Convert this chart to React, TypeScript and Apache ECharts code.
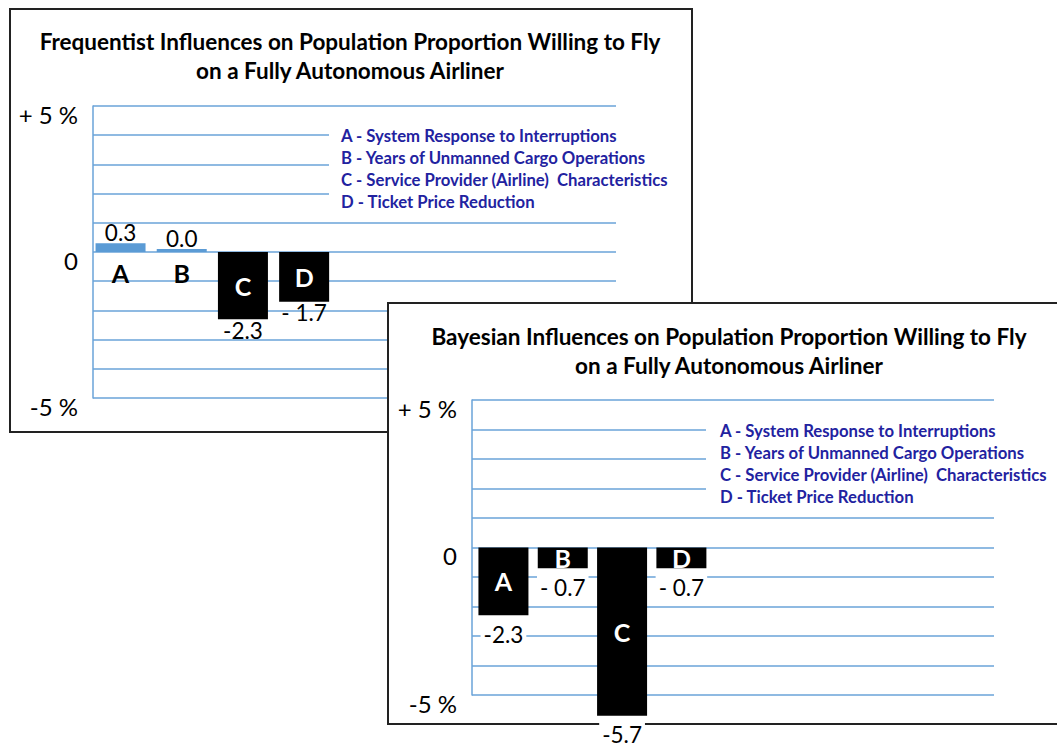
import React, { useEffect, useRef } from 'react';
import * as echarts from 'echarts';

// ---- data ----
const categories = ['A', 'B', 'C', 'D'];
const legendItems = [
  'A - System Response to Interruptions',
  'B - Years of Unmanned Cargo Operations',
  'C - Service Provider (Airline)  Characteristics',
  'D - Ticket Price Reduction',
];
const freqValues = [0.3, 0.0, -2.3, -1.7];
const freqLabels = ['0.3', '0.0', '-2.3', '- 1.7'];
const bayesValues = [-2.3, -0.7, -5.7, -0.7];
const bayesLabels = ['-2.3', '- 0.7', '-5.7', '- 0.7'];
const yTickLabels: Record<string, string> = { '5': '+ 5 %', '0': '0', '-5': '-5 %' };
const freqTitle = 'Frequentist Influences on Population Proportion Willing to Fly\non a Fully Autonomous Airliner';
const bayesTitle = 'Bayesian Influences on Population Proportion Willing to Fly\non a Fully Autonomous Airliner';

const GRID_COLOR = '#6AA3D9';
const BLUE = '#5B9BD5';
const NAVY = '#2222A0';
const BORDER = 2;

type Cfg = {
  title: string;
  values: number[];
  labels: string[];
  box: { left: number; top: number; width: number; height: number; rightBorder: boolean };
  grid: { left: number; top: number; width: number; height: number };
  axisMax: number;
  offset: number;
  titleX: number;
  titleTop: number;
  legend: { x: number; y: number };
  cover: { x: number; y: number; w: number; h: number };
  valueDist: number;
  labelBg: boolean;
};

const freqCfg: Cfg = {
  title: freqTitle,
  values: freqValues,
  labels: freqLabels,
  box: { left: 9, top: 8, width: 684, height: 425, rightBorder: true },
  grid: { left: 93, top: 106, width: 523, height: 292 },
  axisMax: 8.546,
  offset: 0.45,
  titleX: 350,
  titleTop: 27,
  legend: { x: 341, y: 125 },
  cover: { x: 329, y: 120, w: 290, h: 90 },
  valueDist: 1,
  labelBg: false,
};

const bayesCfg: Cfg = {
  title: bayesTitle,
  values: bayesValues,
  labels: bayesLabels,
  box: { left: 387, top: 302, width: 670, height: 423, rightBorder: false },
  grid: { left: 472, top: 400, width: 522, height: 295 },
  axisMax: 8.8,
  offset: 0.53,
  titleX: 729,
  titleTop: 322,
  legend: { x: 720, y: 420 },
  cover: { x: 706, y: 416, w: 292, h: 86 },
  valueDist: 2,
  labelBg: true,
};

function buildOption(cfg: Cfg) {
  const { values, labels } = cfg;
  return {
    animation: false,
    title: {
      text: cfg.title,
      left: cfg.titleX,
      top: cfg.titleTop,
      textAlign: 'center',
      padding: 0,
      textStyle: { fontFamily: 'Lato', fontWeight: 'bold', fontSize: 22.5, lineHeight: 29, color: '#000' },
    },
    grid: { ...cfg.grid, containLabel: false },
    xAxis: { type: 'value', min: 0, max: cfg.axisMax, show: false },
    yAxis: {
      type: 'value',
      min: -5,
      max: 5,
      interval: 1,
      axisLine: { show: true, lineStyle: { color: GRID_COLOR, width: 1.5 } },
      axisTick: { show: false },
      splitLine: { show: true, lineStyle: { color: GRID_COLOR, width: 1.5 } },
      axisLabel: {
        formatter: (v: number) => yTickLabels[String(v)] ?? '',
        margin: 15,
        fontFamily: 'Lato',
        fontSize: 24,
        color: '#000',
        verticalAlign: 'top',
        lineHeight: 16,
      },
    },
    graphic: [
      {
        type: 'rect',
        shape: { x: cfg.cover.x, y: cfg.cover.y, width: cfg.cover.w, height: cfg.cover.h },
        style: { fill: '#fff' },
        z: 10,
        silent: true,
      },
      {
        type: 'text',
        x: cfg.legend.x,
        y: cfg.legend.y,
        z: 11,
        style: {
          text: legendItems.join('\n'),
          fontFamily: 'Lato',
          fontWeight: 'bold',
          fontSize: 16.7,
          lineHeight: 22,
          fill: NAVY,
          align: 'left',
          verticalAlign: 'top',
        },
      },
    ],
    series: [
      {
        type: 'bar',
        name: 'value',
        barWidth: 50,
        barGap: '-100%',
        barMinHeight: 3,
        clip: false,
        silent: true,
        data: values.map((v, i) => ({
          value: [i + cfg.offset, v],
          itemStyle: { color: v >= 0 ? BLUE : '#000' },
          label: { position: v >= 0 ? 'top' : 'bottom' },
        })),
        label: {
          show: true,
          formatter: (p: any) => labels[p.dataIndex],
          fontFamily: 'Lato',
          fontSize: 22.5,
          lineHeight: 20,
          color: '#000',
          distance: cfg.valueDist,
          backgroundColor: cfg.labelBg ? '#fff' : 'transparent',
          padding: cfg.labelBg ? [7, 3, 0, 3] : 0,
        },
      },
      {
        type: 'bar',
        name: 'letter',
        barWidth: 50,
        barGap: '-100%',
        barMinHeight: 3,
        clip: false,
        silent: true,
        itemStyle: { color: 'transparent' },
        data: values.map((v, i) => ({
          value: [i + cfg.offset, v],
          label: v >= 0 ? { position: 'bottom', color: '#000', distance: 8 } : { position: 'inside', color: '#fff' },
        })),
        label: {
          show: true,
          formatter: (p: any) => categories[p.dataIndex],
          fontFamily: 'Lato',
          fontWeight: 'bold',
          fontSize: 25,
        },
      },
    ],
  };
}

function Panel({ cfg }: { cfg: Cfg }) {
  const ref = useRef<HTMLDivElement>(null);
  useEffect(() => {
    const chart = echarts.init(ref.current!, null, { renderer: 'svg' });
    chart.setOption(buildOption(cfg) as any);
    return () => chart.dispose();
  }, [cfg]);
  const { box } = cfg;
  return (
    <div
      style={{
        position: 'absolute',
        left: box.left,
        top: box.top,
        width: box.width,
        height: box.height,
        boxSizing: 'border-box',
        border: `${BORDER}px solid #222`,
        borderRight: box.rightBorder ? `${BORDER}px solid #222` : 'none',
        background: '#fff',
      }}
    >
      <div
        ref={ref}
        style={{
          position: 'absolute',
          left: -(box.left + BORDER),
          top: -(box.top + BORDER),
          width: 1057,
          height: 747,
        }}
      />
    </div>
  );
}

export default function App() {
  return (
    <div>
      <Panel cfg={freqCfg} />
      <Panel cfg={bayesCfg} />
    </div>
  );
}
